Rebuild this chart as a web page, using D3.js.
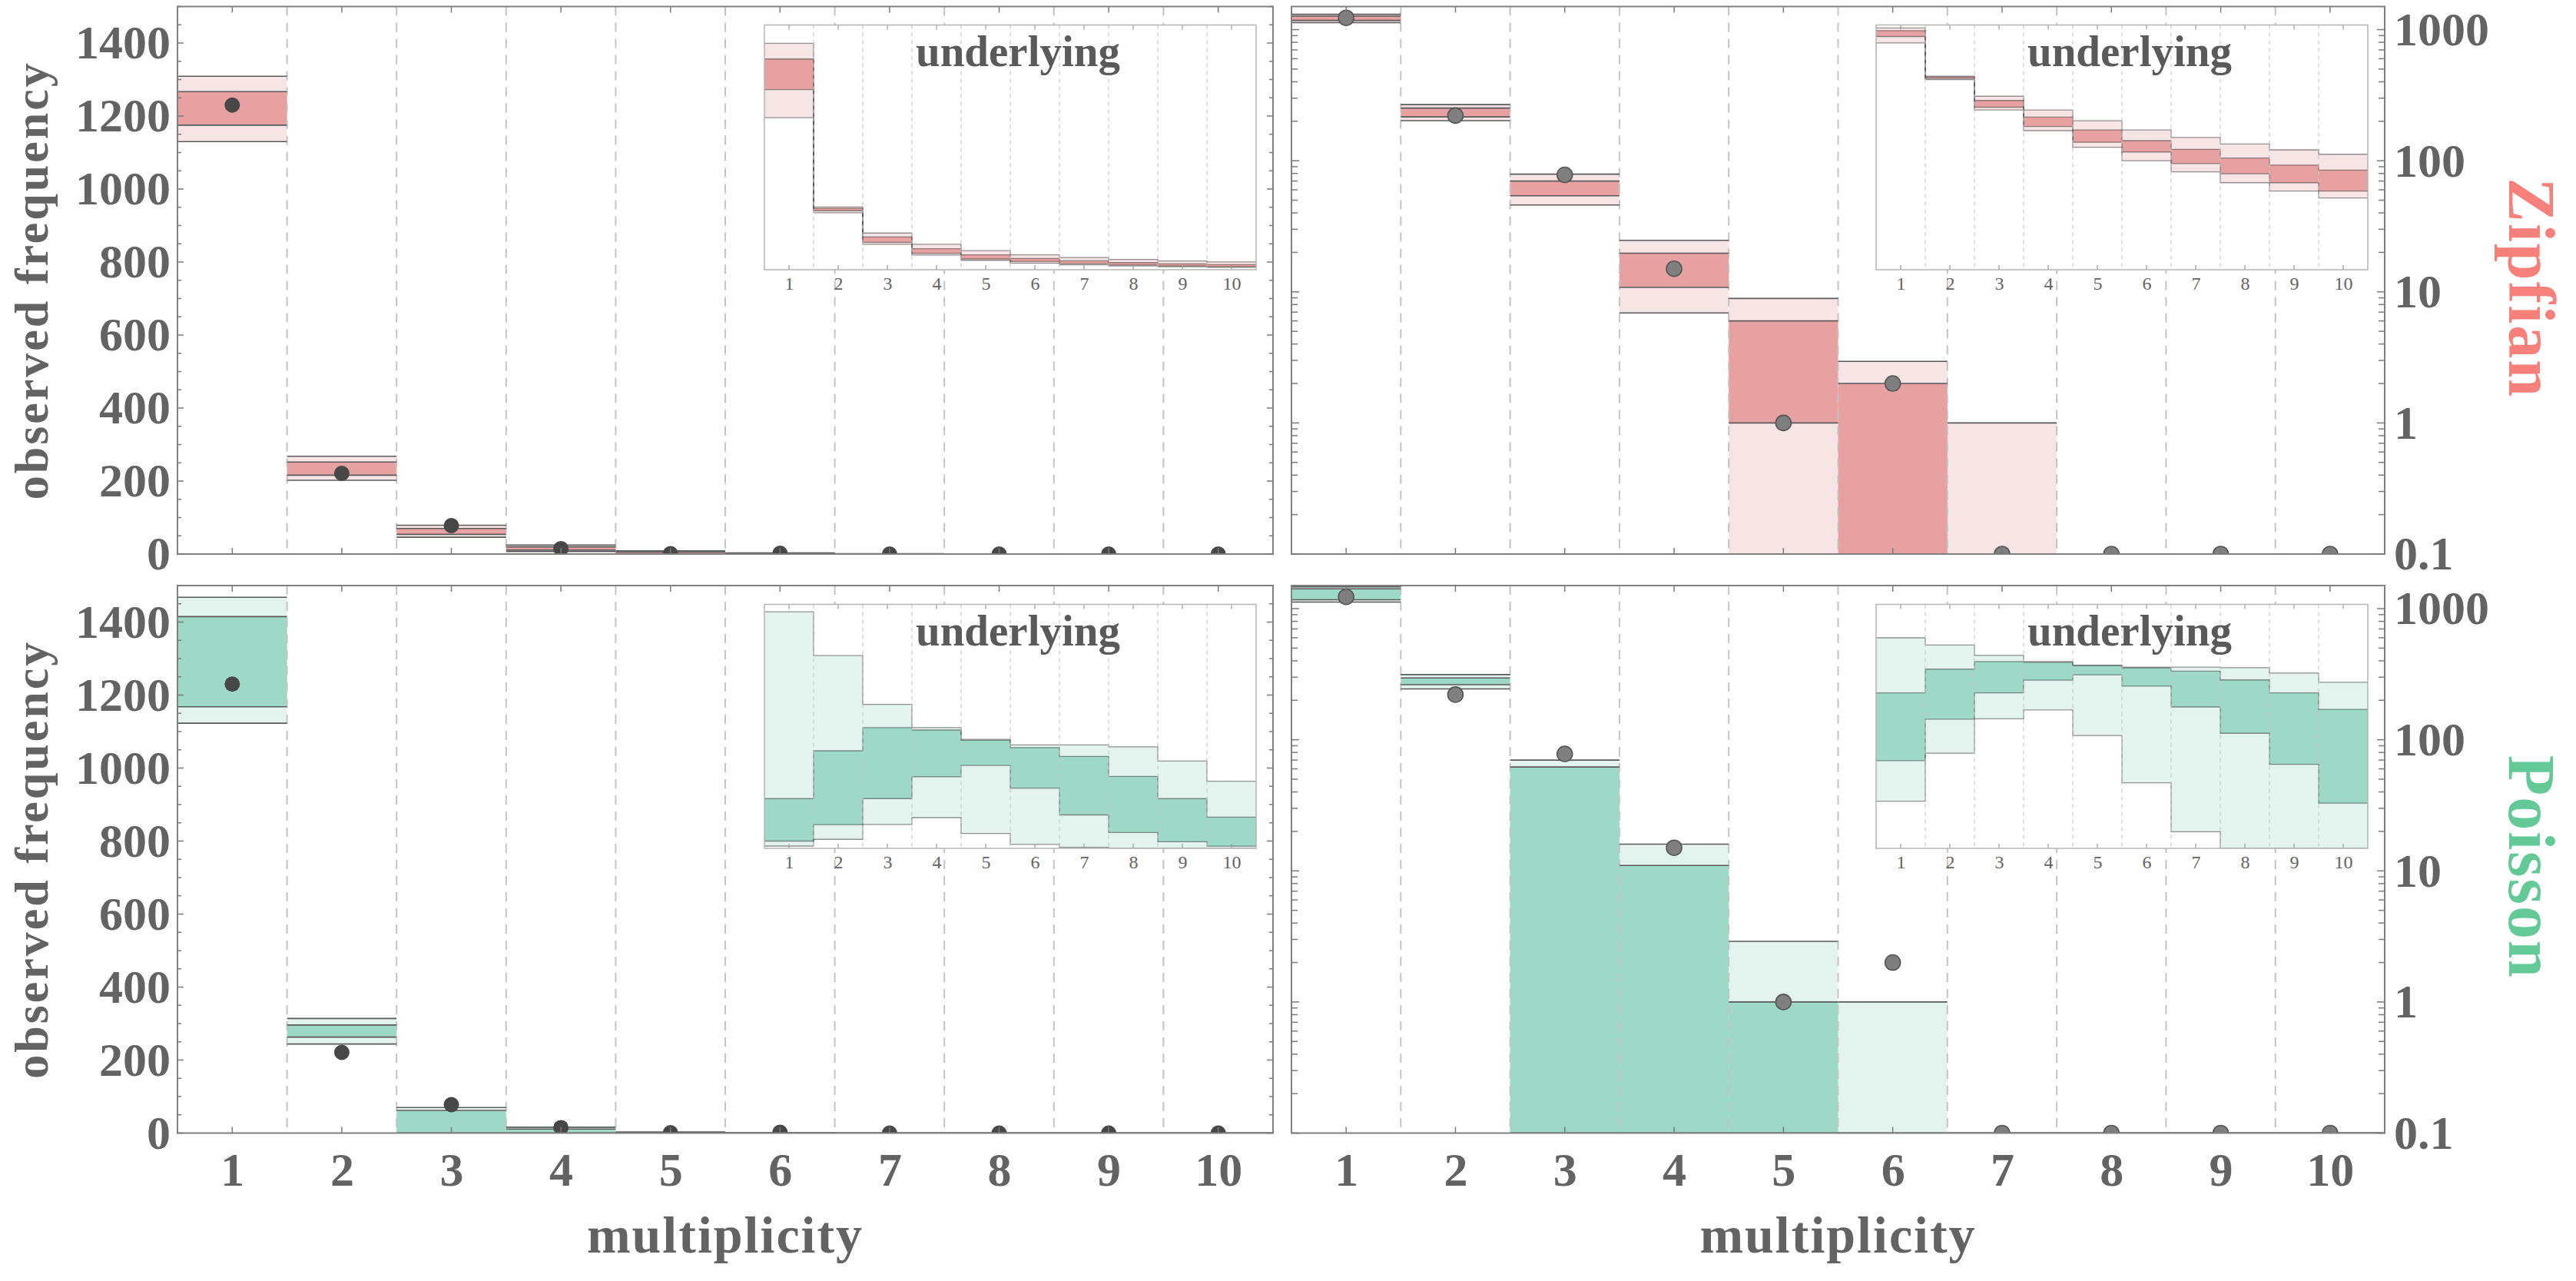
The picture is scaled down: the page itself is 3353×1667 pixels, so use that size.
<!DOCTYPE html>
<html><head><meta charset="utf-8">
<script src="https://cdn.jsdelivr.net/npm/d3@7"></script>
<style>
html,body{margin:0;padding:0;background:#fff;}
svg{display:block;}
text{font-family:"Liberation Serif","Times New Roman",serif;}
</style></head>
<body>
<svg id="chart" width="3353" height="1667"></svg>
<script>
// ---------------- DATA ----------------
const bins = [1, 2, 3, 4, 5, 6, 7, 8, 9, 10];
const observed = [1230, 221, 78, 15, 1, 2, 0, 0, 0, 0];

// Zipfian model: predicted observed frequency (outer = light band, inner = dark band)
const zipfOuterHi = [1309, 268, 79, 24.7, 8.9, 2.95, 1, 0, 0, 0];
const zipfInnerHi = [1267, 252, 70, 19.7, 6.0, 2.0, 0, 0, 0, 0];
const zipfInnerLo = [1175, 216, 54, 10.8, 1.0, 0, 0, 0, 0, 0];
const zipfOuterLo = [1130, 202, 46, 6.9, 0, 0, 0, 0, 0, 0];

// Poisson model
const poisOuterHi = [1468, 314, 70, 16, 2.9, 1.0, 0, 0, 0, 0];
const poisInnerHi = [1415, 296, 62, 11, 1.0, 0, 0, 0, 0, 0];
const poisInnerLo = [1168, 263, 0, 0, 0, 0, 0, 0, 0, 0];
const poisOuterLo = [1123, 244, 0, 0, 0, 0, 0, 0, 0, 0];

// underlying distributions (insets, relative units)
const zipfUnderOuterHi = [925, 256, 150, 104, 78, 61, 50, 42, 36, 32];
const zipfUnderInnerHi = [861, 251, 134, 86, 61, 46, 36.5, 29, 24, 21];
const zipfUnderInnerLo = [736, 241, 112, 67, 44, 34, 25, 19, 15, 12];
const zipfUnderOuterLo = [621, 233, 104, 60, 38.5, 27, 20, 15, 12, 10];

const poisUnderOuterHi = [970, 790, 590, 495, 447, 424, 424, 416, 358, 275];
const poisUnderInnerHi = [204, 400, 495, 485, 443, 413, 377, 295, 204, 128];
const poisUnderInnerLo = [30, 97, 204, 293, 340, 247, 137, 65, 27, 9];
const poisUnderOuterLo = [9.5, 37, 98, 126, 61, 16, 4, 1, 0.5, 0.5];

const linTicks = [0, 200, 400, 600, 800, 1000, 1200, 1400];
const logTicks = [0.1, 1, 10, 100, 1000];
const modelNames = ["Zipfian", "Poisson"];

// ---------------- STYLE / LAYOUT ----------------
const TXT = "#636363";
const models = {
  zipf: {name: modelNames[0], oHi: zipfOuterHi, iHi: zipfInnerHi, iLo: zipfInnerLo, oLo: zipfOuterLo,
         uoHi: zipfUnderOuterHi, uiHi: zipfUnderInnerHi, uiLo: zipfUnderInnerLo, uoLo: zipfUnderOuterLo,
         uLin: [0, 1000], uLog: [1000 / Math.pow(10, 2.83), 1000],
         dark: "#E8A1A1", light: "#F7E5E5", label: "#F7807A"},
  pois: {name: modelNames[1], oHi: poisOuterHi, iHi: poisInnerHi, iLo: poisInnerLo, oLo: poisOuterLo,
         uoHi: poisUnderOuterHi, uiHi: poisUnderInnerHi, uiLo: poisUnderInnerLo, uoLo: poisUnderOuterLo,
         uLin: [0, 1000], uLog: [2.5, 2500],
         dark: "#9ED8C6", light: "#E3F4EE", label: "#63C996"}
};

const panels = [
  {id: "tl", model: "zipf", type: "lin", x0: 231, x1: 1657, y0: 8.5, y1: 721, inset: {x0: 995, x1: 1635, y0: 32.5, y1: 351}},
  {id: "tr", model: "zipf", type: "log", x0: 1681, x1: 3104, y0: 8.5, y1: 721, inset: {x0: 2442, x1: 3082, y0: 32.5, y1: 351}},
  {id: "bl", model: "pois", type: "lin", x0: 231, x1: 1657, y0: 762, y1: 1474.5, inset: {x0: 995, x1: 1635, y0: 786.5, y1: 1104}},
  {id: "br", model: "pois", type: "log", x0: 1681, x1: 3104, y0: 762, y1: 1474.5, inset: {x0: 2442, x1: 3082, y0: 786.5, y1: 1104}}
];

const svg = d3.select("#chart");
const defs = svg.append("defs");

function drawInset(g, p, m) {
  const ins = p.inset;
  const x = d3.scaleLinear().domain([0.5, 10.5]).range([ins.x0, ins.x1]);
  const y = p.type === "lin"
    ? d3.scaleLinear().domain(m.uLin).range([ins.y1, ins.y0])
    : d3.scaleLog().domain(m.uLog).range([ins.y1, ins.y0]);
  const yv = v => p.type === "lin" ? y(v) : y(Math.max(v, m.uLog[0]));

  g.append("rect").attr("x", ins.x0).attr("y", ins.y0)
    .attr("width", ins.x1 - ins.x0).attr("height", ins.y1 - ins.y0).attr("fill", "#fff");

  const cid = "clip-inset-" + p.id;
  defs.append("clipPath").attr("id", cid).append("rect")
    .attr("x", ins.x0).attr("y", ins.y0).attr("width", ins.x1 - ins.x0).attr("height", ins.y1 - ins.y0);
  const c = g.append("g").attr("clip-path", `url(#${cid})`);

  const stepBand = (lo, hi) => bins.flatMap((b, i) => [[b - 0.5, lo[i], hi[i]], [b + 0.5, lo[i], hi[i]]]);
  const area = d3.area().x(d => x(d[0])).y0(d => yv(d[1])).y1(d => yv(d[2]));
  c.append("path").attr("d", area(stepBand(m.uoLo, m.uoHi))).attr("fill", m.light);
  c.append("path").attr("d", area(stepBand(m.uiLo, m.uiHi))).attr("fill", m.dark);

  const line = d3.line().x(d => x(d[0])).y(d => yv(d[1]));
  const stepLine = arr => bins.flatMap((b, i) => [[b - 0.5, arr[i]], [b + 0.5, arr[i]]]);
  [m.uoHi, m.uiHi, m.uiLo, m.uoLo].forEach(arr => {
    c.append("path").attr("d", line(stepLine(arr))).attr("fill", "none")
      .attr("stroke", "rgba(60,60,60,0.55)").attr("stroke-width", 1.3);
  });

  c.selectAll("line.igrid").data(d3.range(1.5, 10.5, 1)).join("line")
    .attr("x1", d => x(d)).attr("x2", d => x(d)).attr("y1", ins.y0).attr("y2", ins.y1)
    .attr("stroke", "#c8c8c8").attr("stroke-width", 1.2).attr("stroke-dasharray", "5,5");

  g.selectAll("line.itickb").data(bins).join("line")
    .attr("x1", d => x(d)).attr("x2", d => x(d)).attr("y1", ins.y1).attr("y2", ins.y1 - 6)
    .attr("stroke", "#999").attr("stroke-width", 1.2);
  g.selectAll("line.itickt").data(bins).join("line")
    .attr("x1", d => x(d)).attr("x2", d => x(d)).attr("y1", ins.y0).attr("y2", ins.y0 + 6)
    .attr("stroke", "#999").attr("stroke-width", 1.2);

  g.append("rect").attr("x", ins.x0).attr("y", ins.y0)
    .attr("width", ins.x1 - ins.x0).attr("height", ins.y1 - ins.y0)
    .attr("fill", "none").attr("stroke", "#b5b5b5").attr("stroke-width", 1.5);

  const ax = g.append("g").attr("transform", `translate(0,${ins.y1})`)
    .call(d3.axisBottom(x).tickValues(bins).tickSize(0).tickPadding(9).tickFormat(d3.format("d")));
  ax.select(".domain").remove();
  ax.selectAll("text").attr("font-size", 24).attr("fill", TXT)
    .attr("font-family", '"Liberation Serif", serif');

  g.append("text").attr("x", (ins.x0 + ins.x1) / 2 + 10).attr("y", ins.y0 + 53)
    .attr("text-anchor", "middle").attr("font-size", 57).attr("font-weight", "bold")
    .attr("fill", "#5a5a5a").text("underlying");
}

panels.forEach(p => {
  const m = models[p.model];
  const g = svg.append("g");
  const x = d3.scaleLinear().domain([0.5, 10.5]).range([p.x0, p.x1]);
  const y = p.type === "lin"
    ? d3.scaleLinear().domain([0, 1500]).range([p.y1, p.y0])
    : d3.scaleLog().domain([0.1, 1500]).range([p.y1, p.y0]);
  const yv = v => p.type === "lin" ? y(v) : y(Math.max(v, 0.1));

  const cid = "clip-" + p.id;
  defs.append("clipPath").attr("id", cid).append("rect")
    .attr("x", p.x0).attr("y", p.y0).attr("width", p.x1 - p.x0).attr("height", p.y1 - p.y0);
  const c = g.append("g").attr("clip-path", `url(#${cid})`);

  const bandRects = (lo, hi, fill) => {
    c.append("g").selectAll("rect").data(bins).join("rect")
      .attr("x", d => x(d - 0.5)).attr("width", d => x(d + 0.5) - x(d - 0.5))
      .attr("y", (d, i) => yv(hi[i])).attr("height", (d, i) => Math.max(0, yv(lo[i]) - yv(hi[i])))
      .attr("fill", fill);
  };
  bandRects(m.oLo, m.oHi, m.light);
  bandRects(m.iLo, m.iHi, m.dark);

  // dashed bin separators
  c.append("g").selectAll("line").data(d3.range(1.5, 10.5, 1)).join("line")
    .attr("x1", d => x(d)).attr("x2", d => x(d)).attr("y1", p.y0).attr("y2", p.y1)
    .attr("stroke", "#c4c4c4").attr("stroke-width", 2).attr("stroke-dasharray", "12,9");

  // band edge lines
  [m.oHi, m.iHi, m.iLo, m.oLo].forEach(arr => {
    c.append("g").selectAll("line").data(bins).join("line")
      .attr("x1", d => x(d - 0.5)).attr("x2", d => x(d + 0.5))
      .attr("y1", (d, i) => yv(arr[i])).attr("y2", (d, i) => yv(arr[i]))
      .attr("stroke", "#5a5a5a").attr("stroke-width", 1.6);
  });

  // observed points
  c.append("g").selectAll("circle").data(bins).join("circle")
    .attr("cx", d => x(d)).attr("cy", (d, i) => yv(observed[i])).attr("r", 10)
    .attr("fill", p.type === "lin" ? "#474747" : "#7f7f7f")
    .attr("stroke", p.type === "lin" ? "none" : "#555").attr("stroke-width", 1.6);

  // inset
  drawInset(g, p, m);

  // frame
  g.append("rect").attr("x", p.x0).attr("y", p.y0).attr("width", p.x1 - p.x0).attr("height", p.y1 - p.y0)
    .attr("fill", "none").attr("stroke", "#808080").attr("stroke-width", 2);

  // x ticks (top & bottom, inward)
  const tk = g.append("g").attr("stroke", "#7a7a7a").attr("stroke-width", 1.5);
  tk.selectAll("line.xb").data(bins).join("line").attr("class", "xb")
    .attr("x1", d => x(d)).attr("x2", d => x(d)).attr("y1", p.y1).attr("y2", p.y1 - 8);
  tk.selectAll("line.xt").data(bins).join("line").attr("class", "xt")
    .attr("x1", d => x(d)).attr("x2", d => x(d)).attr("y1", p.y0).attr("y2", p.y0 + 8);

  // y ticks (both sides, inward)
  let yt = [];
  if (p.type === "lin") {
    yt = d3.range(0, 1501, 50).map(v => ({v, len: v % 200 === 0 ? 8 : 5}));
  } else {
    [0.1, 1, 10, 100, 1000].forEach(dec => {
      for (let k = 1; k <= 9; k++) { const v = dec * k; if (v <= 1500) yt.push({v, len: k === 1 ? 10 : 8}); }
    });
  }
  tk.selectAll("line.yl").data(yt).join("line").attr("class", "yl")
    .attr("x1", p.x0).attr("x2", d => p.x0 + d.len).attr("y1", d => y(d.v)).attr("y2", d => y(d.v));
  tk.selectAll("line.yr").data(yt).join("line").attr("class", "yr")
    .attr("x1", p.x1).attr("x2", d => p.x1 - d.len).attr("y1", d => y(d.v)).attr("y2", d => y(d.v));

  // tick labels
  let axis;
  if (p.type === "lin") {
    axis = g.append("g").attr("transform", `translate(${p.x0},0)`)
      .call(d3.axisLeft(y).tickValues(linTicks).tickSize(0).tickPadding(9).tickFormat(d3.format("d")));
  } else {
    axis = g.append("g").attr("transform", `translate(${p.x1},0)`)
      .call(d3.axisRight(y).tickValues(logTicks).tickSize(0).tickPadding(12)
        .tickFormat(d => d < 1 ? String(d) : d3.format("d")(d)));
  }
  axis.select(".domain").remove();
  axis.selectAll("text").attr("font-size", 62).attr("font-weight", "bold").attr("fill", TXT)
    .attr("font-family", '"Liberation Serif", serif');

  if (p.y0 > 700) {
    const xa = g.append("g").attr("transform", `translate(0,${p.y1})`)
      .call(d3.axisBottom(x).tickValues(bins).tickSize(0).tickPadding(24).tickFormat(d3.format("d")));
    xa.select(".domain").remove();
    xa.selectAll("text").attr("font-size", 62).attr("font-weight", "bold").attr("fill", TXT)
      .attr("font-family", '"Liberation Serif", serif');
    g.append("text").attr("x", (p.x0 + p.x1) / 2).attr("y", 1630)
      .attr("text-anchor", "middle").attr("font-size", 68).attr("font-weight", "bold")
      .attr("letter-spacing", 2).attr("fill", TXT).text("multiplicity");
  }
  if (p.type === "lin") {
    const cy = (p.y0 + p.y1) / 2;
    g.append("text").attr("transform", `translate(62,${cy}) rotate(-90)`)
      .attr("text-anchor", "middle").attr("font-size", 62).attr("font-weight", "bold")
      .attr("letter-spacing", 3).attr("fill", TXT).text("observed frequency");
  } else {
    const cy = (p.y0 + p.y1) / 2 + 10;
    g.append("text").attr("transform", `translate(3266,${cy}) rotate(90)`)
      .attr("text-anchor", "middle").attr("font-size", 86).attr("font-weight", "bold")
      .attr("letter-spacing", 2).attr("fill", m.label).text(m.name);
  }
});
</script>
</body></html>
